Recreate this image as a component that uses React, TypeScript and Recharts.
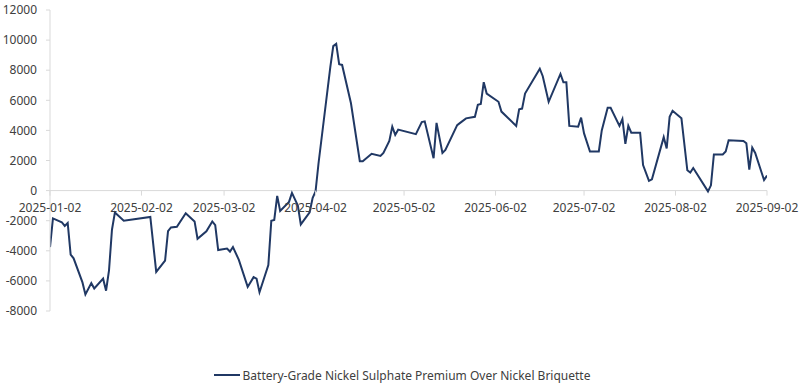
import React from 'react';
import { LineChart, Line, XAxis, YAxis, ReferenceLine, Legend } from 'recharts';

const SERIES_NAME = 'Battery-Grade Nickel Sulphate Premium Over Nickel Briquette';

const DATES = [
  '2025-01-02','2025-01-03','2025-01-06','2025-01-07','2025-01-08','2025-01-09','2025-01-10',
  '2025-01-13','2025-01-14','2025-01-16','2025-01-17','2025-01-20','2025-01-21','2025-01-22',
  '2025-01-23','2025-01-24','2025-01-27','2025-02-05','2025-02-07','2025-02-10','2025-02-11',
  '2025-02-12','2025-02-14','2025-02-17','2025-02-20','2025-02-21','2025-02-24','2025-02-26',
  '2025-02-27','2025-02-28','2025-03-03','2025-03-04','2025-03-05','2025-03-07','2025-03-10',
  '2025-03-12','2025-03-13','2025-03-14','2025-03-17','2025-03-18','2025-03-19','2025-03-20',
  '2025-03-21','2025-03-24','2025-03-25','2025-03-27','2025-03-28','2025-03-31','2025-04-01',
  '2025-04-02','2025-04-03','2025-04-07','2025-04-08','2025-04-09','2025-04-10','2025-04-11',
  '2025-04-14','2025-04-17','2025-04-18','2025-04-21','2025-04-24','2025-04-25','2025-04-27',
  '2025-04-28','2025-04-29','2025-04-30','2025-05-06','2025-05-08','2025-05-09','2025-05-12',
  '2025-05-13','2025-05-15','2025-05-16','2025-05-20','2025-05-21','2025-05-23','2025-05-26',
  '2025-05-27','2025-05-28','2025-05-29','2025-05-30','2025-06-03','2025-06-04','2025-06-09',
  '2025-06-10','2025-06-11','2025-06-12','2025-06-17','2025-06-18','2025-06-20','2025-06-24',
  '2025-06-25','2025-06-26','2025-06-27','2025-06-30','2025-07-01','2025-07-02','2025-07-04',
  '2025-07-07','2025-07-08','2025-07-10','2025-07-11','2025-07-14','2025-07-15','2025-07-16',
  '2025-07-17','2025-07-18','2025-07-21','2025-07-22','2025-07-24','2025-07-25','2025-07-29',
  '2025-07-30','2025-07-31','2025-08-01','2025-08-04','2025-08-06','2025-08-07','2025-08-08',
  '2025-08-13','2025-08-14','2025-08-15','2025-08-18','2025-08-19','2025-08-20','2025-08-25',
  '2025-08-26','2025-08-27','2025-08-28','2025-08-29','2025-09-01','2025-09-02',
];

const PREMIUM = [
  -3750, -1850, -2100, -2350, -2150, -4250, -4500,
  -6100, -6900, -6150, -6500, -5850, -6650, -5300,
  -2600, -1450, -2000, -1750, -5400, -4650, -2700,
  -2450, -2400, -1500, -2050, -3200, -2700, -2050,
  -2300, -3950, -3850, -4050, -3750, -4600, -6400,
  -5750, -5850, -6750, -4950, -2000, -1950, -350,
  -1350, -750, -150, -1000, -2250, -1450, -500,
  -50, 1800, 8200, 9600, 9750, 8400, 8350,
  5800, 1950, 1950, 2450, 2300, 2500, 3300,
  4250, 3700, 4050, 3750, 4550, 4600, 2150,
  4500, 2500, 2700, 4350, 4500, 4800, 4900,
  5700, 5750, 7200, 6450, 5900, 5250, 4300,
  5400, 5450, 6450, 8100, 7600, 5900, 7750,
  7200, 7200, 4300, 4250, 4850, 3800, 2600,
  2600, 4000, 5500, 5500, 4300, 4750, 3100,
  4300, 3850, 3850, 1700, 650, 750, 3550,
  2800, 4900, 5300, 4800, 1350, 1200, 1500,
  -50, 350, 2400, 2400, 2600, 3350, 3300,
  3150, 1400, 2850, 2500, 700, 1000,
];

const X_TICK_LABELS = [
  '2025-01-02','2025-02-02','2025-03-02','2025-04-02','2025-05-02',
  '2025-06-02','2025-07-02','2025-08-02','2025-09-02',
];

const Y_TICKS = [-8000, -6000, -4000, -2000, 0, 2000, 4000, 6000, 8000, 10000, 12000];
const Y_MIN = -8000;
const Y_MAX = 12000;

const START = Date.UTC(2025, 0, 2);
const toDay = (s: string) => {
  const [y, m, d] = s.split('-').map(Number);
  return Math.round((Date.UTC(y, m - 1, d) - START) / 86400000);
};

const data = DATES.map((d, i) => ({ day: toDay(d), value: PREMIUM[i] }));
const X_TICKS = X_TICK_LABELS.map(toDay);
const X_MAX = toDay('2025-09-02');

const W = 804;
const H = 392;
const MARGIN = { top: 10, right: 37, left: 0, bottom: 7 };
const LEGEND_H = 20;
const XAXIS_H = 54;
const PLOT_H = H - MARGIN.top - MARGIN.bottom - LEGEND_H - XAXIS_H;
const ZERO_Y = MARGIN.top + (PLOT_H * (Y_MAX - 0)) / (Y_MAX - Y_MIN);

const FONT = '"Noto Sans", sans-serif';
const TEXT = '#404040';
const AXIS = '#d9d9d9';
const NAVY = '#203864';

const labelFor = (day: number) => {
  const i = X_TICKS.indexOf(day);
  return i >= 0 ? X_TICK_LABELS[i] : '';
};

const XTick = (props: any) => {
  const { x, payload } = props;
  return (
    <g>
      <line x1={x} x2={x} y1={ZERO_Y} y2={ZERO_Y + 5} stroke={AXIS} strokeWidth={1} />
      <text x={x} y={ZERO_Y + 21} textAnchor="middle" fontSize={12} fontFamily={FONT} fill={TEXT}>
        {labelFor(payload.value)}
      </text>
    </g>
  );
};

const LegendContent = (props: any) => {
  const items = props.payload || [];
  return (
    <div style={{ height: LEGEND_H, display: 'flex', justifyContent: 'center', alignItems: 'center', fontFamily: FONT, fontSize: 12, color: TEXT }}>
      {items.map((it: any, i: number) => (
        <div key={i} style={{ display: 'flex', alignItems: 'center' }}>
          <svg width={26} height={10} style={{ marginRight: 3 }}>
            <line x1={0} x2={26} y1={5} y2={5} stroke={it.color} strokeWidth={2} />
          </svg>
          <span>{it.value}</span>
        </div>
      ))}
    </div>
  );
};

export default function App() {
  return (
    <div style={{ position: 'absolute', left: 0, top: 0, width: W, height: H, background: '#fff', fontFamily: FONT }}>
      <LineChart width={W} height={H} data={data} margin={MARGIN}>
        <XAxis
          type="number"
          dataKey="day"
          domain={[0, X_MAX]}
          ticks={X_TICKS}
          interval={0}
          axisLine={false}
          tickLine={false}
          tick={<XTick />}
          height={XAXIS_H}
          allowDataOverflow
        />
        <YAxis
          type="number"
          domain={[Y_MIN, Y_MAX]}
          ticks={Y_TICKS}
          interval={0}
          width={50}
          axisLine={{ stroke: AXIS }}
          tickLine={{ stroke: AXIS }}
          tickSize={4}
          tickMargin={9}
          tick={{ fontSize: 12, fill: TEXT, fontFamily: FONT }}
        />
        <ReferenceLine y={0} stroke={AXIS} strokeWidth={1} />
        <Line
          type="linear"
          dataKey="value"
          name={SERIES_NAME}
          stroke={NAVY}
          strokeWidth={2}
          dot={false}
          legendType="plainline"
          isAnimationActive={false}
        />
        <Legend
          verticalAlign="bottom"
          content={<LegendContent />}
          wrapperStyle={{ left: 0, width: W }}
        />
      </LineChart>
    </div>
  );
}
